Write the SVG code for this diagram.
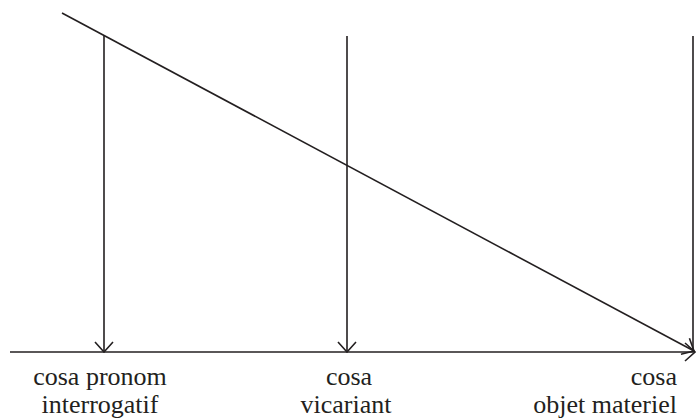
<svg xmlns="http://www.w3.org/2000/svg" width="697" height="420" viewBox="0 0 697 420">
<defs>
<style>
.ln{stroke:#231f20;stroke-width:1.6;fill:none}
.lbl{font-family:'Liberation Serif','Times New Roman','DejaVu Serif',serif;font-size:26px;fill:#231f20}
</style>
<marker id="arr" viewBox="0 0 12 20" refX="11" refY="10" markerWidth="12" markerHeight="20" markerUnits="userSpaceOnUse" orient="auto">
<path d="M1,1 L11,10 L1,19" stroke="#231f20" stroke-width="1.6" fill="none"/>
</marker>
</defs>
<rect width="697" height="420" fill="#fff"/>
<g id="connectors">
<line class="ln" x1="10" y1="352" x2="695" y2="352" marker-end="url(#arr)"/>
<line class="ln" x1="62" y1="13" x2="694" y2="351" marker-end="url(#arr)"/>
<line class="ln" x1="104" y1="35" x2="104" y2="352" marker-end="url(#arr)"/>
<line class="ln" x1="347" y1="36" x2="347" y2="352" marker-end="url(#arr)"/>
<line class="ln" x1="693" y1="36" x2="693" y2="351"/>
</g>
<g id="label-pronom">
<text class="lbl" x="100" y="385" text-anchor="middle">cosa pronom</text>
<text class="lbl" x="100" y="413" text-anchor="middle">interrogatif</text>
</g>
<g id="label-vicariant">
<text class="lbl" x="349" y="385" text-anchor="middle">cosa</text>
<text class="lbl" x="346" y="413" text-anchor="middle">vicariant</text>
</g>
<g id="label-objet">
<text class="lbl" x="677" y="385" text-anchor="end">cosa</text>
<text class="lbl" x="677" y="413" text-anchor="end">objet materiel</text>
</g>
</svg>
